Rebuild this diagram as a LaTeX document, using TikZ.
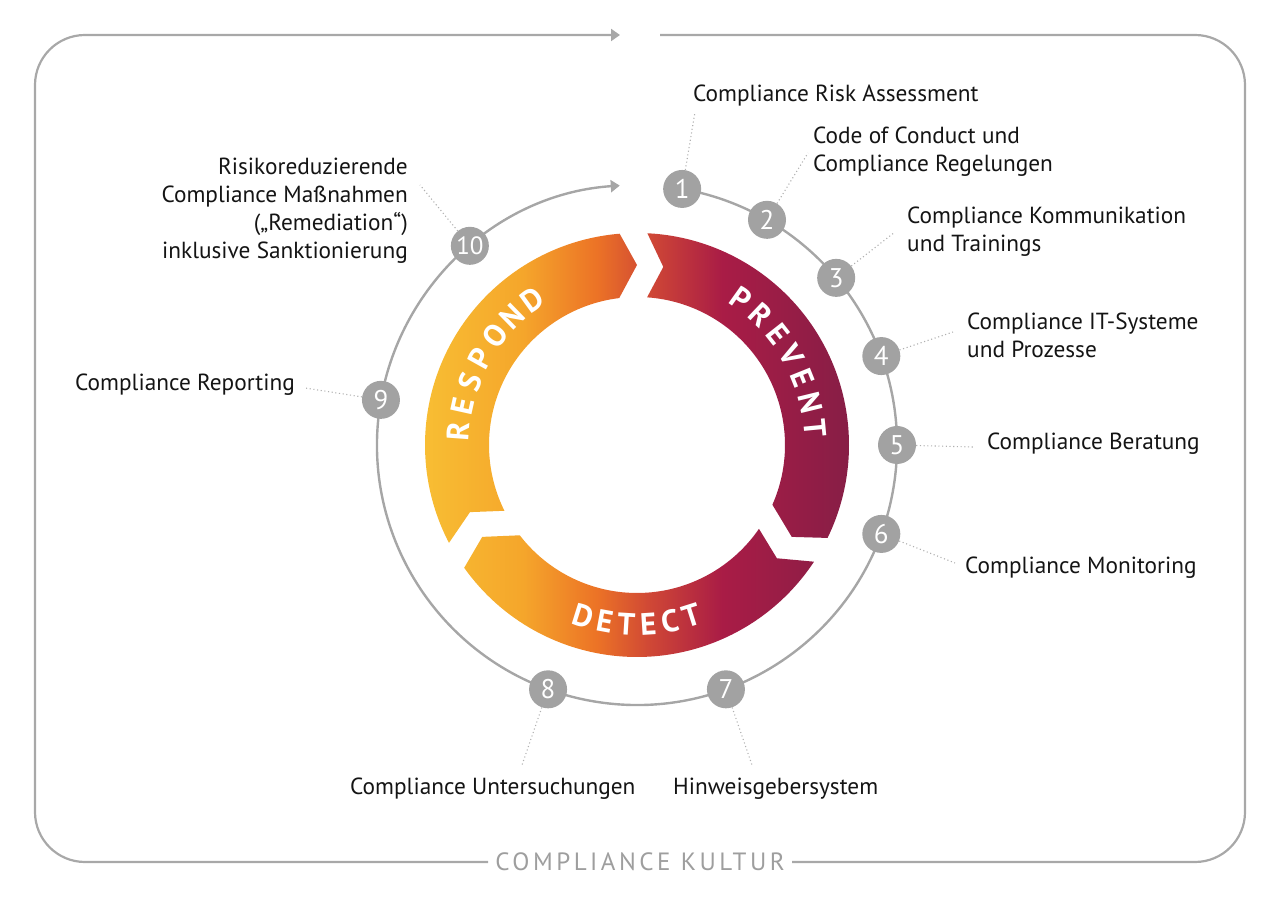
\documentclass[tikz,border=0pt]{standalone}
\usepackage{fontspec}
\setmainfont{PT Sans}
\usetikzlibrary{arrows.meta}
\definecolor{lgray}{HTML}{A6A6A6}
\definecolor{cgray}{HTML}{A2A2A2}
\definecolor{fgray}{HTML}{A8A8A8}
\definecolor{tgray}{HTML}{9E9E9E}
\definecolor{txt}{HTML}{141414}
\definecolor{dotgray}{HTML}{B0B0B0}
\definecolor{ca}{HTML}{F8C034}
\definecolor{cb}{HTML}{F5A62B}
\definecolor{cc}{HTML}{EC7326}
\definecolor{cd}{HTML}{D04835}
\definecolor{ce}{HTML}{A91C46}
\definecolor{cf}{HTML}{851E46}
\pgfdeclarehorizontalshading{ringshade}{100bp}{color(0bp)=(ca); color(25bp)=(ca); color(37.3bp)=(cb); color(45.6bp)=(cc); color(51.5bp)=(cd); color(59.8bp)=(ce); color(75bp)=(cf); color(100bp)=(cf)}
\tikzset{
  frame/.style={draw=fgray, line width=2.2pt},
  orbit/.style={draw=lgray, line width=2.4pt},
  numc/.style={circle, fill=cgray, minimum size=38pt, inner sep=0pt, text=white, font=\fontsize{27}{27}\selectfont},
  leader/.style={draw=dotgray, line width=1.1pt, dash pattern=on 1.1pt off 2.6pt},
  lbl/.style={inner sep=0pt, text=txt, font=\fontsize{23.3}{28}\selectfont},
  ringtxt/.style={inner sep=0pt, anchor=base, text=white, font=\fontsize{31}{31}\selectfont\bfseries},
  title/.style={inner sep=0pt, text=tgray, font=\fontsize{25}{25}\selectfont\addfontfeatures{LetterSpace=14}},
  tip/.style={-{Triangle[length=9pt,width=12pt]}}
}
\begin{document}
\begin{tikzpicture}[x=1pt,y=1pt]
\useasboundingbox (0,0) rectangle (1280,900);
% frame
\draw[frame, rounded corners=50pt] (660,865) -- (1245,865) -- (1245,38) -- (792,38);
\draw[frame, rounded corners=50pt, tip] (488,38) -- (35,38) -- (35,865) -- (620,865);
\node[title] (kultur) at (640,38) {COMPLIANCE KULTUR};

\begin{scope}[shift={(637,455)}]
% ring arrows
\shade[shading=ringshade]
  (87.2:212pt) arc[start angle=87.2, end angle=-26.0, radius=212pt] -- (-30.7:180pt) -- (-23.8:148pt)
     arc[start angle=-23.8, end angle=86.1, radius=148pt] -- (81.6:180pt) -- cycle
  (-33.4:212pt) arc[start angle=-33.4, end angle=-144.6, radius=212pt] -- (-149.3:180pt) -- (-142.4:148pt)
     arc[start angle=-142.4, end angle=-34.5, radius=148pt] -- (-39:180pt) -- cycle
  (207.5:212pt) arc[start angle=207.5, end angle=94.7, radius=212pt] -- (90:180pt) -- (96.9:148pt)
     arc[start angle=96.9, end angle=206.4, radius=148pt] -- (201.9:180pt) -- cycle;
% ring words
\foreach \l/\a [count=\i] in {P/54.6, R/46.4, E/38.2, V/30, E/21.9, N/13.7, T/5.5}
  \node[ringtxt, rotate=\a-90] (pv\i) at (\a:168pt) {\l};
\foreach \l/\a [count=\i] in {R/175.8, E/167.5, S/159.2, P/150.9, O/142.5, N/134.2, D/125.9}
  \node[ringtxt, rotate=\a-90] (rs\i) at (\a:168pt) {\l};
\foreach \l/\a [count=\i] in {D/-107.4, E/-100.4, T/-93.4, E/-86.4, C/-79.4, T/-72.4}
  \node[ringtxt, rotate=\a+90] (dt\i) at (\a:190pt) {\l};
% orbit
\draw[orbit, tip] (80:260pt) arc[start angle=80, end angle=-266.2, radius=260pt];
\node[numc] (n1) at (80:260pt) {1};
\node[numc] (n2) at (60:260pt) {2};
\node[numc] (n3) at (40:260pt) {3};
\node[numc] (n4) at (20:260pt) {4};
\node[numc] (n5) at (0:260pt) {5};
\node[numc] (n6) at (-20:260pt) {6};
\node[numc] (n7) at (-70:260pt) {7};
\node[numc] (n8) at (-110:260pt) {8};
\node[numc] (n9) at (170:260pt) {9};
\node[numc, font=\fontsize{25}{25}\selectfont] (n10) at (130:260pt) {10};
\end{scope}

% leader end points
\coordinate (e1) at (695,788);
\coordinate (e2) at (808,747);
\coordinate (e3) at (895,668);
\coordinate (e4) at (953,568);
\coordinate (e5) at (973,453);
\coordinate (e6) at (955,337);
\coordinate (e7) at (752,135);
\coordinate (e8) at (522,135);
\coordinate (e9) at (305,512);
\coordinate (e10) at (420,715);
\foreach \i in {1,...,10} \draw[leader] (n\i) -- (e\i);

% labels
\node[lbl, anchor=north west, align=left] (l1) at (693,815) {Compliance Risk Assessment};
\node[lbl, anchor=north west, align=left] (l2) at (813,773) {Code of Conduct und\\Compliance Regelungen};
\node[lbl, anchor=north west, align=left] (l3) at (907,693) {Compliance Kommunikation\\und Trainings};
\node[lbl, anchor=north west, align=left] (l4) at (967,587) {Compliance IT-Systeme\\und Prozesse};
\node[lbl, anchor=north west, align=left] (l5) at (987,467) {Compliance Beratung};
\node[lbl, anchor=north west, align=left] (l6) at (965,343) {Compliance Monitoring};
\node[lbl, anchor=north west, align=left] (l7) at (673,122) {Hinweisgebersystem};
\node[lbl, anchor=north west, align=left] (l8) at (350,122) {Compliance Untersuchungen};
\node[lbl, anchor=north east, align=right] (l9) at (295,526) {Compliance Reporting};
\node[lbl, anchor=north east, align=right] (l10) at (408,742) {Risikoreduzierende\\Compliance Maßnahmen\\(„Remediation“)\\inklusive Sanktionierung};
\end{tikzpicture}
\end{document}
